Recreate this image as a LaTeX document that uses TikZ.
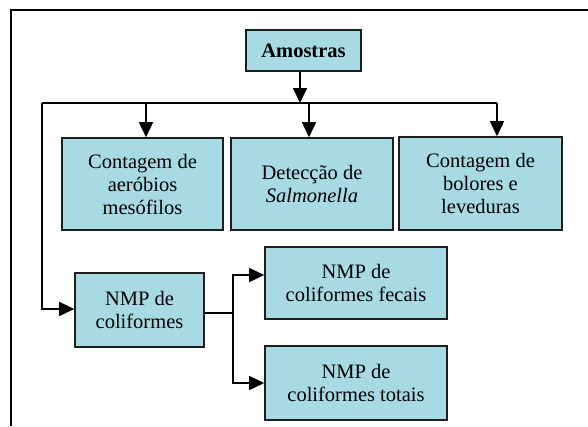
\documentclass[tikz,border=0pt]{standalone}
\usepackage{fontspec}
\setmainfont{Liberation Serif}
\usetikzlibrary{arrows.meta}
\definecolor{boxfill}{RGB}{168,218,228}
\definecolor{boxline}{RGB}{30,30,30}
\tikzset{
  box/.style={draw=boxline, line width=1.6pt, fill=boxfill, rectangle, align=center,
    inner sep=0pt, font=\fontsize{20.5}{23}\selectfont},
  conn/.style={line width=1.6pt, black},
  arr/.style={conn, -{Triangle[length=15pt,width=14pt]}},
}
\begin{document}
\begin{tikzpicture}[x=1pt,y=-1pt]
\useasboundingbox (0,0) rectangle (588,426);
\fill[white] (0,0) rectangle (588,426);
\draw[line width=1.3pt] (11,426) -- (11,10) -- (588,10);

\node[box, minimum width=115pt, minimum height=41pt] (am) at (303.5,50.5) {\textbf{Amostras}};
\node[box, minimum width=161pt, minimum height=92pt] (b1) at (142.5,184) {Contagem de\\aeróbios\\mesófilos};
\node[box, minimum width=162pt, minimum height=92pt] (b2) at (312,184) {Detecção de\\\textit{Salmonella}};
\node[box, minimum width=163pt, minimum height=93pt] (b3) at (480.5,183.5) {Contagem de\\bolores e\\leveduras};
\node[box, minimum width=129pt, minimum height=74pt] (co) at (139.5,310) {NMP de\\coliformes};
\node[box, minimum width=182pt, minimum height=72pt] (fe) at (356,283) {NMP de\\coliformes fecais};
\node[box, minimum width=182pt, minimum height=74pt] (to) at (356,383) {NMP de\\coliformes totais};

\coordinate (barL) at (42,103);
\coordinate (barR) at (497,103);
\coordinate (amx) at (300,71);
\coordinate (inco) at (42,309);
\coordinate (outco) at (204,313);
\coordinate (split) at (233,313);
\coordinate (sfe) at (233,275);

\draw[arr] (amx |- am.south) -- (amx |- barL);
\draw[conn] (barL) -- (barR);
\draw[arr] ([xshift=3.5pt]b1.north |- barL) -- ([xshift=3.5pt]b1.north);
\draw[arr] ([xshift=-3pt]b2.north |- barL) -- ([xshift=-3pt]b2.north);
\draw[arr] (barR) -- (barR |- b3.north);
\draw[arr] (barL) -- (inco) -- (co.west |- inco);
\draw[conn] (co.east |- outco) -- (split);
\draw[arr] (split) -- (sfe) -- (fe.west |- sfe);
\draw[arr] (split) -- (split |- to.west) -- (to.west);
\end{tikzpicture}
\end{document}
